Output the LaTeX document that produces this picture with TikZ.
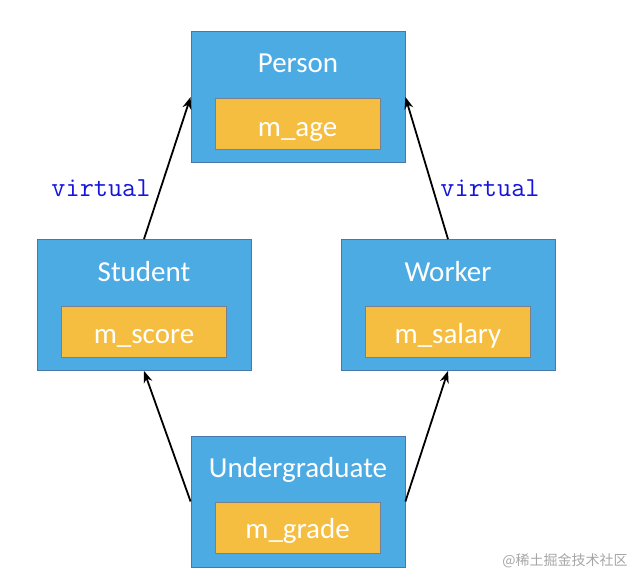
\documentclass[tikz,border=0pt]{standalone}
\usepackage{fontspec}
\setmainfont{Carlito}
\newfontfamily\cjkfont{Noto Sans CJK SC}
\usetikzlibrary{arrows.meta}
\definecolor{boxblue}{RGB}{77,171,228}
\definecolor{boxblueedge}{RGB}{70,120,170}
\definecolor{fieldorange}{RGB}{245,190,65}
\definecolor{fieldedge}{RGB}{120,128,140}
\definecolor{virtblue}{RGB}{20,20,220}
\tikzset{
  classbox/.style={draw=boxblueedge, fill=boxblue, line width=0.8pt, minimum width=214pt, minimum height=131pt, inner sep=0pt},
  fieldbox/.style={draw=fieldedge, fill=fieldorange, line width=0.8pt, minimum width=165pt, minimum height=51pt, inner sep=0pt},
  classname/.style={text=white, font=\fontsize{29}{31}\selectfont, inner sep=0pt, anchor=base},
  virt/.style={text=virtblue, font=\ttfamily\fontsize{27.5}{29}\selectfont, inner sep=0pt},
  inherit/.style={-{Stealth[length=12pt,width=9pt]}, line width=1.8pt, black}
}
\begin{document}
\begin{tikzpicture}[x=1pt,y=-1pt]
\useasboundingbox (0,0) rectangle (642,586);
% class boxes
\node[classbox] (person) at (298,97) {};
\node[classbox] (student) at (144,305) {};
\node[classbox] (worker) at (448,305) {};
\node[classbox] (ug) at (298,501.5) {};
% fields
\node[fieldbox] (age) at (297.5,123.5) {};
\node[fieldbox] (score) at (144,332) {};
\node[fieldbox] (salary) at (448,332) {};
\node[fieldbox] (grade) at (297.5,528) {};
% names
\node[classname] (personname) at (298,73) {Person};
\node[classname] (studentname) at (144,281) {Student};
\node[classname] (workername) at (448,281) {Worker};
\node[classname] (ugname) at (298,477) {Undergraduate};
% field texts
\node[classname] (agetext) at (297.5,136) {m\_age};
\node[classname] (scoretext) at (144,343) {m\_score};
\node[classname] (salarytext) at (448,343) {m\_salary};
\node[classname] (gradetext) at (297.5,538) {m\_grade};
% arrows
\draw[inherit] (student.north) -- (person.west);
\draw[inherit] (worker.north) -- (person.east);
\draw[inherit] (ug.west) -- (student.south);
\draw[inherit] (ug.east) -- (worker.south);
% labels
\node[virt] (v1) at (101,188) {virtual};
\node[virt] (v2) at (490,188) {virtual};
% watermark
\node[text=gray!70, font=\cjkfont\fontsize{14}{16}\selectfont, inner sep=0pt] (wm) at (565,561) {@稀土掘金技术社区};
\end{tikzpicture}
\end{document}
